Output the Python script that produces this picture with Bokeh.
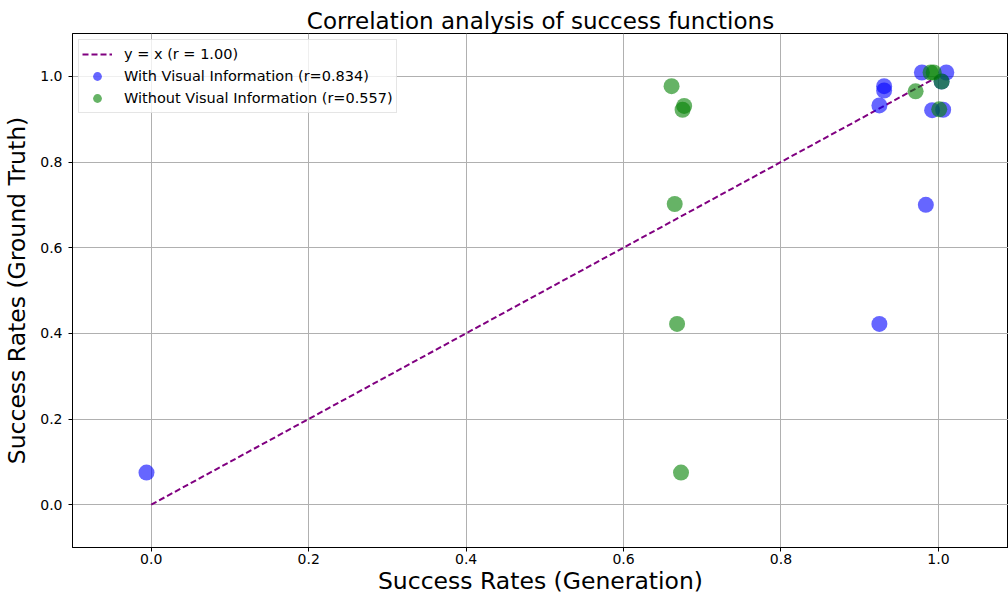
from bokeh.plotting import figure
from bokeh.models import Range1d, FixedTicker, NumeralTickFormatter, Legend, LegendItem
from bokeh.embed import file_html
from bokeh.resources import INLINE

# Data
with_gen = [-0.006, 0.925, 0.984, 0.925, 0.931, 0.931, 0.979, 1.010, 1.004, 0.992, 1.006]
with_gt = [0.075, 0.422, 0.700, 0.932, 0.977, 0.967, 1.009, 1.009, 0.988, 0.921, 0.922]
without_gen = [0.661, 0.677, 0.675, 0.665, 0.668, 0.673, 0.971, 0.990, 0.994, 1.004, 1.001]
without_gt = [0.977, 0.931, 0.922, 0.702, 0.422, 0.075, 0.965, 1.009, 1.009, 0.988, 0.923]
ref_x = [0.0, 1.0]
ref_y = [0.0, 1.0]
ticks = [0.0, 0.2, 0.4, 0.6, 0.8, 1.0]
labels = ["y = x (r = 1.00)", "With Visual Information (r=0.834)", "Without Visual Information (r=0.557)"]

FONT = "DejaVu Sans"

p = figure(width=1008, height=597, output_backend="svg", toolbar_location=None,
           x_range=Range1d(-0.1, 1.089), y_range=Range1d(-0.1, 1.1),
           title="Correlation analysis of success functions",
           min_border_left=71, min_border_right=0, min_border_top=33, min_border_bottom=50)

p.title.text_font = FONT
p.title.text_font_size = "23px"
p.title.text_font_style = "normal"
p.title.text_color = "black"
p.title.text_line_height = 0.8
p.title.align = "center"
p.title.offset = 0
p.title.standoff = 0

for ax in (p.xaxis[0], p.yaxis[0]):
    ax.ticker = FixedTicker(ticks=ticks)
    ax.formatter = NumeralTickFormatter(format="0.0")
    ax.major_label_text_font = FONT
    ax.major_label_text_font_size = "14px"
    ax.major_label_text_color = "black"
    ax.axis_label_text_font = FONT
    ax.axis_label_text_font_size = "23.5px"
    ax.axis_label_text_font_style = "normal"
    ax.axis_label_text_color = "black"
    ax.minor_tick_line_color = None
    ax.major_tick_out = 4
    ax.major_tick_in = 0
    ax.axis_line_color = "black"
    ax.major_tick_line_color = "black"

p.xaxis.axis_label = "Success Rates (Generation)"
p.yaxis.axis_label = "Success Rates (Ground Truth)"
p.xaxis.axis_label_standoff = 0
p.yaxis.axis_label_standoff = 6
p.xaxis.major_label_standoff = 2
p.yaxis.major_label_standoff = 6

p.grid.grid_line_color = "#b0b0b0"
p.grid.grid_line_width = 1
p.grid.ticker = FixedTicker(ticks=ticks)
p.outline_line_color = "black"
p.outline_line_width = 1

r_line = p.line(ref_x, ref_y, line_color="purple", line_width=2, line_dash="6 3")
r_with = p.scatter(with_gen, with_gt, size=16, fill_color="blue", fill_alpha=0.6,
                   line_color=None)
r_without = p.scatter(without_gen, without_gt, size=16, fill_color="green", fill_alpha=0.6,
                      line_color=None)

legend = Legend(items=[LegendItem(label=labels[0], renderers=[r_line]),
                       LegendItem(label=labels[1], renderers=[r_with]),
                       LegendItem(label=labels[2], renderers=[r_without])],
                location="top_left")
legend.label_text_font = FONT
legend.label_text_font_size = "14.5px"
legend.label_text_color = "black"
legend.label_height = 22
legend.glyph_height = 22
legend.glyph_width = 30
legend.spacing = 0
legend.padding = 3
legend.margin = 6
legend.label_standoff = 12
legend.border_line_color = "#cccccc"
legend.border_line_width = 1
legend.background_fill_alpha = 0.8
p.add_layout(legend)

open("out.html", "w").write(file_html(p, INLINE))
